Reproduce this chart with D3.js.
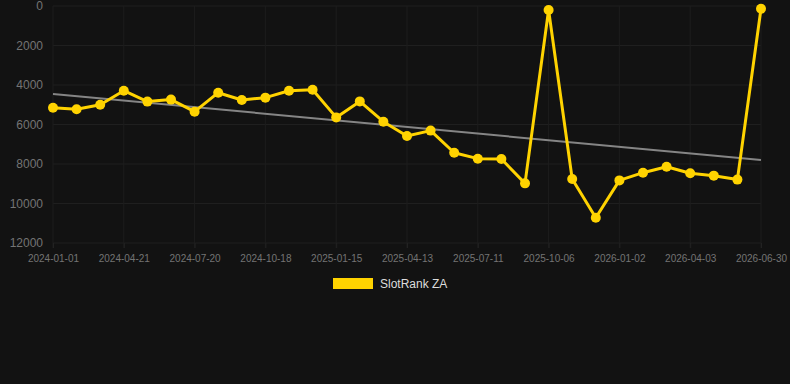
<!DOCTYPE html>
<html>
<head>
<meta charset="utf-8">
<script src="https://cdn.jsdelivr.net/npm/d3@7"></script>
<style>
  html, body { margin: 0; padding: 0; background: #121212; }
  #chart-container { width: 790px; height: 384px; }
  text { font-family: Arial, "Liberation Sans", sans-serif; }
</style>
</head>
<body>
<div id="chart-container"></div>
<script>
// Data
const dates = [
    "2024-01-01", "2024-02-07", "2024-03-15", "2024-04-21", "2024-05-21", "2024-06-20",
    "2024-07-20", "2024-08-19", "2024-09-18", "2024-10-18", "2024-11-17", "2024-12-16",
    "2025-01-15", "2025-02-13", "2025-03-14", "2025-04-13", "2025-05-12", "2025-06-11",
    "2025-07-11", "2025-08-08", "2025-09-07", "2025-10-06", "2025-11-04", "2025-12-03",
    "2026-01-02", "2026-02-01", "2026-03-04", "2026-04-03", "2026-05-02", "2026-05-31",
    "2026-06-30"
];
const rank = [
    5150, 5230, 5000, 4290, 4840, 4740, 5350, 4390, 4760, 4640, 4290, 4240,
    5640, 4830, 5860, 6580, 6310, 7430, 7730, 7750, 8980, 200, 8760, 10720,
    8830, 8440, 8140, 8470, 8590, 8790, 140
];
const tickLabels = [
    "2024-01-01", "2024-04-21", "2024-07-20", "2024-10-18", "2025-01-15", "2025-04-13",
    "2025-07-11", "2025-10-06", "2026-01-02", "2026-04-03", "2026-06-30"
];
const yTicks = [0, 2000, 4000, 6000, 8000, 10000, 12000];
const trendDates = ["2024-01-01", "2026-06-30"];
const trendValues = [4450, 7800];
const seriesName = "SlotRank ZA";

const width = 790, height = 384;
const plot = { left: 53, right: 761, top: 6, bottom: 243 };

const svg = d3.select("#chart-container")
    .append("svg")
    .attr("width", width)
    .attr("height", height);

svg.append("rect")
    .attr("width", width)
    .attr("height", height)
    .attr("fill", "#121212");

// Scales
const x = d3.scalePoint()
    .domain(dates)
    .range([plot.left, plot.right]);

const y = d3.scaleLinear()
    .domain([0, 12000])
    .range([plot.top, plot.bottom]);

// Grid
svg.append("g")
    .selectAll("line")
    .data(yTicks)
    .enter()
    .append("line")
    .attr("x1", plot.left)
    .attr("x2", plot.right)
    .attr("y1", d => y(d))
    .attr("y2", d => y(d))
    .attr("stroke", "#1f1f1f")
    .attr("stroke-width", 1);

svg.append("g")
    .selectAll("line")
    .data(tickLabels)
    .enter()
    .append("line")
    .attr("x1", d => x(d))
    .attr("x2", d => x(d))
    .attr("y1", plot.top)
    .attr("y2", plot.bottom + 5)
    .attr("stroke", "#1d1d1d")
    .attr("stroke-width", 1);

// Y axis
const yAxis = svg.append("g")
    .attr("transform", `translate(${plot.left},0)`)
    .call(d3.axisLeft(y).tickValues(yTicks).tickSize(0).tickPadding(10).tickFormat(d3.format("d")));
yAxis.select(".domain").remove();
yAxis.selectAll("text")
    .attr("fill", "#747474")
    .style("font-size", "12px");

// X axis
const xAxis = svg.append("g")
    .attr("transform", `translate(0,${plot.bottom})`)
    .call(d3.axisBottom(x).tickValues(tickLabels).tickSize(5).tickPadding(7));
xAxis.select(".domain").remove();
xAxis.selectAll("line").attr("stroke", "#222");
xAxis.selectAll("text")
    .attr("fill", "#747474")
    .style("font-size", "10px");

// Trend line
svg.append("path")
    .datum(trendDates.map((d, i) => ({ date: d, value: trendValues[i] })))
    .attr("fill", "none")
    .attr("stroke", "#858585")
    .attr("stroke-width", 2)
    .attr("d", d3.line().x(d => x(d.date)).y(d => y(d.value)));

// Series line
const data = dates.map((d, i) => ({ date: d, value: rank[i] }));

svg.append("path")
    .datum(data)
    .attr("fill", "none")
    .attr("stroke", "#FFD300")
    .attr("stroke-width", 3)
    .attr("stroke-linejoin", "round")
    .attr("d", d3.line().x(d => x(d.date)).y(d => y(d.value)));

svg.selectAll(".dot")
    .data(data)
    .enter()
    .append("circle")
    .attr("class", "dot")
    .attr("cx", d => x(d.date))
    .attr("cy", d => y(d.value))
    .attr("r", 5)
    .attr("fill", "#FFD300");

// Legend
const legend = svg.append("g")
    .attr("transform", "translate(333,278)");
legend.append("rect")
    .attr("width", 40)
    .attr("height", 11)
    .attr("fill", "#FFD300");
legend.append("text")
    .attr("x", 47)
    .attr("y", 10)
    .attr("fill", "#dddddd")
    .style("font-size", "12px")
    .text(seriesName);
</script>
</body>
</html>
